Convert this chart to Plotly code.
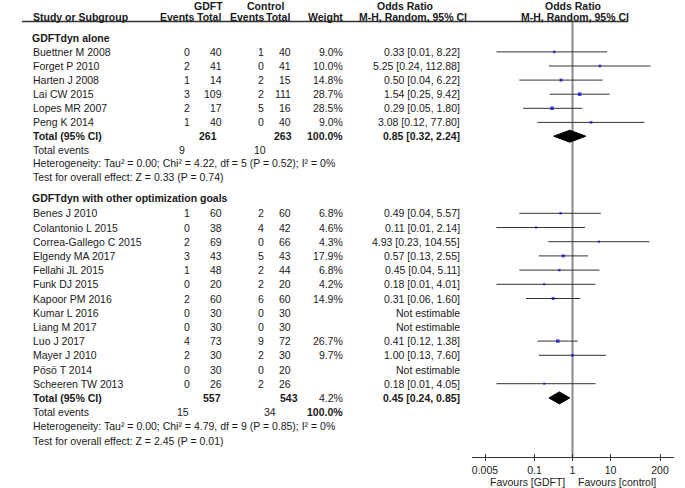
import plotly.graph_objects as go
import math

# ---------------- data ----------------
studies1 = ["Buettner M 2008", "Forget P 2010", "Harten J 2008", "Lai CW 2015",
            "Lopes MR 2007", "Peng K 2014"]
ev_g1 = [0, 2, 1, 3, 2, 1]
tot_g1 = [40, 41, 14, 109, 17, 40]
ev_c1 = [1, 0, 2, 2, 5, 0]
tot_c1 = [40, 41, 15, 111, 16, 40]
w1 = [9.0, 10.0, 14.8, 28.7, 28.5, 9.0]
or1 = [0.33, 5.25, 0.50, 1.54, 0.29, 3.08]
lo1 = [0.01, 0.24, 0.04, 0.25, 0.05, 0.12]
hi1 = [8.22, 112.88, 6.22, 9.42, 1.80, 77.80]

studies2 = ["Benes J 2010", "Colantonio L 2015", "Correa-Gallego C 2015", "Elgendy MA 2017",
            "Fellahi JL 2015", "Funk DJ 2015", "Kapoor PM 2016", "Kumar L 2016",
            "Liang M 2017", "Luo J 2017", "Mayer J 2010", "Pösö T 2014", "Scheeren TW 2013"]
ev_g2 = [1, 0, 2, 3, 1, 0, 2, 0, 0, 4, 2, 0, 0]
tot_g2 = [60, 38, 69, 43, 48, 20, 60, 30, 30, 73, 30, 30, 26]
ev_c2 = [2, 4, 0, 5, 2, 2, 6, 0, 0, 9, 2, 0, 2]
tot_c2 = [60, 42, 66, 43, 44, 20, 60, 30, 30, 72, 30, 20, 26]
w2 = [6.8, 4.6, 4.3, 17.9, 6.8, 4.2, 14.9, None, None, 26.7, 9.7, None, 4.2]
or2 = [0.49, 0.11, 4.93, 0.57, 0.45, 0.18, 0.31, None, None, 0.41, 1.00, None, 0.18]
lo2 = [0.04, 0.01, 0.23, 0.13, 0.04, 0.01, 0.06, None, None, 0.12, 0.13, None, 0.01]
hi2 = [5.57, 2.14, 104.55, 2.55, 5.11, 4.01, 1.60, None, None, 1.38, 7.60, None, 4.05]

subgroups = ["GDFTdyn alone", "GDFTdyn with other optimization goals"]
sub_tot_g = [261, 557]
sub_tot_c = [263, 543]
sub_ev_g = [9, 15]
sub_ev_c = [10, 34]
sub_or = [0.85, 0.45]
sub_lo = [0.32, 0.24]
sub_hi = [2.24, 0.85]
sub_het = ["Heterogeneity: Tau² = 0.00; Chi² = 4.22, df = 5 (P = 0.52); I² = 0%",
           "Heterogeneity: Tau² = 0.00; Chi² = 4.79, df = 9 (P = 0.85); I² = 0%"]
sub_test = ["Test for overall effect: Z = 0.33 (P = 0.74)",
            "Test for overall effect: Z = 2.45 (P = 0.01)"]

tick_vals = [0.005, 0.1, 1, 10, 200]
tick_text = ["0.005", "0.1", "1", "10", "200"]

# ---------------- layout helpers ----------------
W, H = 685, 488
FONT = "Liberation Sans, Arial, sans-serif"
FS = 10.5
TXT = "#1a1a1a"

# row positions (pixels from top)
head1_y = 37.8
rows1_y = [51.9 + i * 14.1 for i in range(6)]
tot1_y = 136.2
tev1_y = 149.8
het1_y = 163.4
test1_y = 177.0
head2_y = 197.5
rows2_y = [213.3 + i * 14.2 for i in range(13)]
tot2_y = 397.9
tev2_y = 412.1
het2_y = 426.3
test2_y = 440.5

annotations = []


def txt(x, y, s, anchor="left", bold=False, size=FS):
    if bold:
        s = "<b>" + s + "</b>"
    annotations.append(dict(x=x, y=y, xref="x", yref="y", text=s, showarrow=False,
                            xanchor=anchor, yanchor="middle",
                            font=dict(family=FONT, size=size, color=TXT)))


def fmt_or(o, l, h):
    return f"{o:.2f} [{l:.2f}, {h:.2f}]"


# headers
txt(208, 5.5, "GDFT", "center", True)
txt(265, 5.5, "Control", "center", True)
txt(405, 5.5, "Odds Ratio", "center", True)
txt(573, 5.5, "Odds Ratio", "center", True)
txt(30.5, 17, "Study or Subgroup", "left", True)
txt(197, 17, "Events", "right", True)
txt(223, 17, "Total", "right", True)
txt(267, 17, "Events", "right", True)
txt(292, 17, "Total", "right", True)
txt(345, 17, "Weight", "right", True)
txt(413, 17, "M-H, Random, 95% CI", "center", True)
txt(575, 17, "M-H, Random, 95% CI", "center", True)

X_STUDY = 30.5
X_EVG, X_TOTG, X_EVC, X_TOTC, X_W, X_OR = 192, 224, 266, 293, 345, 461.5

# subgroup 1
txt(29.5, head1_y, subgroups[0], "left", True)
for i, s in enumerate(studies1):
    y = rows1_y[i]
    txt(X_STUDY, y, s)
    txt(X_EVG, y, str(ev_g1[i]), "right")
    txt(X_TOTG, y, str(tot_g1[i]), "right")
    txt(X_EVC, y, str(ev_c1[i]), "right")
    txt(X_TOTC, y, str(tot_c1[i]), "right")
    txt(X_W, y, f"{w1[i]:.1f}%", "right")
    txt(X_OR, y, fmt_or(or1[i], lo1[i], hi1[i]), "right")
txt(X_STUDY, tot1_y, "Total (95% CI)", "left", True)
txt(219, tot1_y, str(sub_tot_g[0]), "right", True)
txt(294, tot1_y, str(sub_tot_c[0]), "right", True)
txt(X_W, tot1_y, "100.0%", "right", True)
txt(X_OR, tot1_y, fmt_or(sub_or[0], sub_lo[0], sub_hi[0]), "right", True)
txt(X_STUDY, tev1_y, "Total events")
txt(187, tev1_y, str(sub_ev_g[0]), "right")
txt(268, tev1_y, str(sub_ev_c[0]), "right")
txt(X_STUDY, het1_y, sub_het[0])
txt(X_STUDY, test1_y, sub_test[0])

# subgroup 2 (weight column as printed: last study's weight appears on the total row)
txt(29.5, head2_y, subgroups[1], "left", True)
for i, s in enumerate(studies2):
    y = rows2_y[i]
    txt(X_STUDY, y, s)
    txt(X_EVG, y, str(ev_g2[i]), "right")
    txt(X_TOTG, y, str(tot_g2[i]), "right")
    txt(X_EVC, y, str(ev_c2[i]), "right")
    txt(X_TOTC, y, str(tot_c2[i]), "right")
    if w2[i] is not None and i < len(studies2) - 1:
        txt(X_W, y, f"{w2[i]:.1f}%", "right")
    if or2[i] is None:
        txt(X_OR, y, "Not estimable", "right")
    else:
        txt(X_OR, y, fmt_or(or2[i], lo2[i], hi2[i]), "right")
txt(X_STUDY, tot2_y, "Total (95% CI)", "left", True)
txt(223, tot2_y, str(sub_tot_g[1]), "right", True)
txt(300, tot2_y, str(sub_tot_c[1]), "right", True)
txt(X_W, tot2_y, f"{w2[-1]:.1f}%", "right")
txt(X_OR, tot2_y, fmt_or(sub_or[1], sub_lo[1], sub_hi[1]), "right", True)
txt(X_STUDY, tev2_y, "Total events")
txt(191, tev2_y, str(sub_ev_g[1]), "right")
txt(278, tev2_y, str(sub_ev_c[1]), "right")
txt(X_W, tev2_y, "100.0%", "right", True)
txt(X_STUDY, het2_y, sub_het[1])
txt(X_STUDY, test2_y, sub_test[1])

# favours labels
txt(567, 482, "Favours [GDFT]", "right")
txt(576, 482, "Favours [control]", "left")

# ---------------- forest traces ----------------
fig = go.Figure()

ci_x, ci_y = [], []
sq_x, sq_y, sq_s = [], [], []
for ys, ors, los, his, ws in [(rows1_y, or1, lo1, hi1, w1), (rows2_y, or2, lo2, hi2, w2)]:
    for y, o, l, h, w in zip(ys, ors, los, his, ws):
        if o is None:
            continue
        ci_x += [l, h, None]
        ci_y += [y, y, None]
        sq_x.append(o)
        sq_y.append(y)
        sq_s.append(1.2 + 0.45 * math.sqrt(w))

fig.add_trace(go.Scatter(x=ci_x, y=ci_y, mode="lines", xaxis="x2", yaxis="y",
                         line=dict(color="#333333", width=1), hoverinfo="skip",
                         showlegend=False))
fig.add_trace(go.Scatter(x=sq_x, y=sq_y, mode="markers", xaxis="x2", yaxis="y",
                         marker=dict(symbol="square", size=sq_s, color="#0000e0",
                                     line=dict(width=0)),
                         showlegend=False))

DH = 6
for y, o, l, h in zip([tot1_y, tot2_y], sub_or, sub_lo, sub_hi):
    fig.add_trace(go.Scatter(x=[l, o, h, o, l], y=[y, y - DH, y, y + DH, y],
                             mode="lines", fill="toself", fillcolor="black",
                             line=dict(color="black", width=1), xaxis="x2", yaxis="y",
                             showlegend=False, hoverinfo="skip"))

fig.add_trace(go.Scatter(x=[1], y=[300], mode="markers", xaxis="x3", yaxis="y",
                         marker=dict(opacity=0), showlegend=False, hoverinfo="skip"))

# ---------------- axes / layout ----------------
AX_Y = 457.3
dom = [471.7 / W, 674 / W]
k = 175 / (math.log10(200) - math.log10(0.005))
r0 = math.log10(0.005) - (485 - 471.7) / k
r1 = math.log10(200) + (674 - 660) / k

common = dict(type="log", range=[r0, r1], domain=dom, anchor="free",
              position=(H - AX_Y) / H, showline=True, linecolor="#333333", linewidth=1,
              tickvals=tick_vals, ticktext=tick_text, showgrid=False, zeroline=False,
              tickcolor="#333333", tickwidth=1, ticklen=3, automargin=False,
              tickfont=dict(family=FONT, size=FS, color=TXT))

fig.update_layout(
    width=W, height=H,
    margin=dict(l=0, r=0, t=0, b=0),
    paper_bgcolor="white", plot_bgcolor="white",
    showlegend=False,
    xaxis=dict(range=[0, W], domain=[0, 1], visible=False, fixedrange=True),
    yaxis=dict(range=[H, 0], domain=[0, 1], visible=False, fixedrange=True),
    xaxis2=dict(**common, ticks="outside", showticklabels=True),
    xaxis3=dict(**common, ticks="inside", showticklabels=False, overlaying="x2"),
    annotations=annotations,
    shapes=[
        dict(type="line", xref="x", yref="y", x0=22, x1=628, y0=21.5, y1=21.5,
             line=dict(color="#333333", width=1.5)),
        dict(type="line", xref="x2", yref="y", x0=1, x1=1, y0=21.5, y1=AX_Y,
             line=dict(color="#8a8a8a", width=2), layer="below"),
    ],
)

fig.write_html("out.html", config={"displayModeBar": False},
               post_script="document.body.style.margin='0';document.body.style.overflow='hidden';")
